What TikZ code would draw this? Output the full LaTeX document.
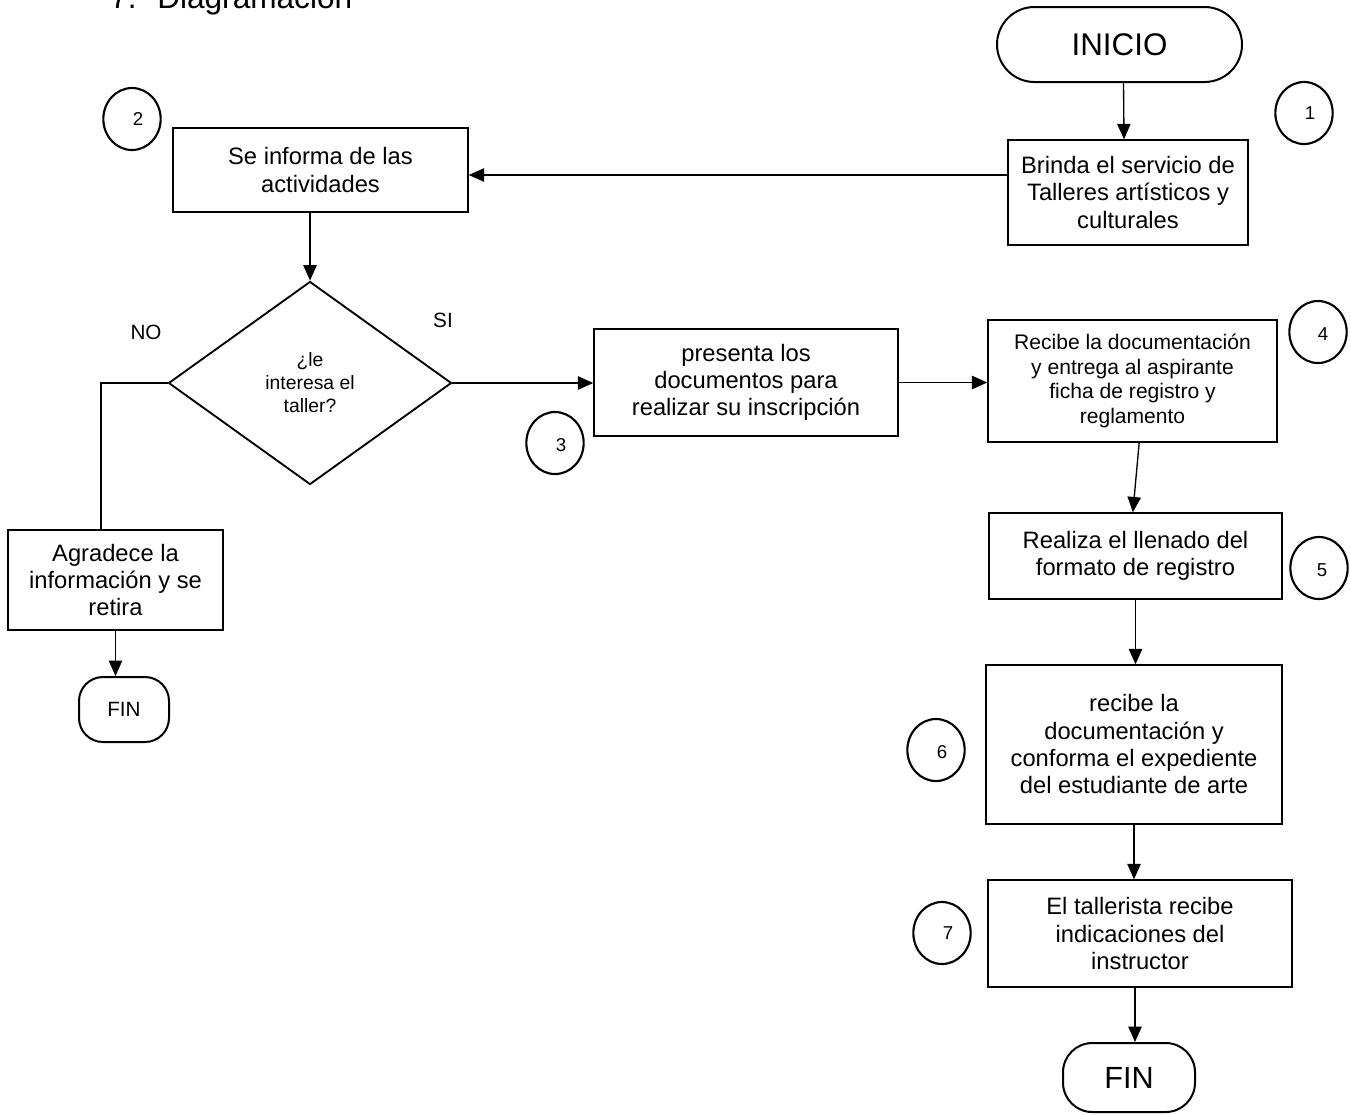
\documentclass[tikz,border=0pt]{standalone}
\usepackage{fontspec}
\setmainfont{Liberation Sans}
\usetikzlibrary{arrows.meta,shapes.geometric,shapes.misc}
\begin{document}
\begin{tikzpicture}[x=0.75pt,y=-0.75pt,
  proc/.style={draw, line width=1.1pt, inner sep=0pt, align=center,
    font=\fontsize{17.8}{20.5}\selectfont},
  smallproc/.style={proc, font=\fontsize{15.8}{18.4}\selectfont},
  numc/.style={draw, ellipse, line width=1.6pt, minimum width=43pt,
    minimum height=46.5pt, inner sep=0pt},
  numtxt/.style={font=\fontsize{14}{14}\selectfont, inner sep=0pt},
  term/.style={draw, line width=1.5pt, inner sep=0pt},
  conn/.style={line width=1pt, -{Triangle[length=11.5pt,width=10pt]}},
  plain/.style={line width=1pt},
  lbl/.style={font=\fontsize{15.5}{15.5}\selectfont, inner sep=0pt}
]
\useasboundingbox (0,0) rectangle (1351,1114);

% title (cut off at the top of the page, as in the reference)
\node[anchor=base west, inner sep=0pt, font=\fontsize{23.7}{26}\selectfont] (t7) at (110,8) {7.};
\node[anchor=base west, inner sep=0pt, font=\fontsize{23.7}{26}\selectfont] (tdiag) at (157,8) {Diagramación};

% terminals
\node[term, rounded rectangle, minimum width=183.75pt, minimum height=56.25pt,
  font=\fontsize{23.5}{26}\selectfont] (ini) at (1119.5,44.5) {INICIO};
\node[term, rectangle, rounded corners=18pt, minimum width=67.5pt, minimum height=48.75pt,
  font=\fontsize{15.5}{18}\selectfont] (finA) at (124,709.5) {FIN};
\node[term, rectangle, rounded corners=22pt, minimum width=99pt, minimum height=51.75pt,
  font=\fontsize{23}{26}\selectfont] (finB) at (1129,1077.5) {FIN};

% process boxes
\node[proc, minimum width=180pt, minimum height=78.75pt] (b1) at (1128,192.5)
  {Brinda el servicio de\\Talleres artísticos y\\culturales};
\node[proc, minimum width=221.25pt, minimum height=63pt] (b2) at (320.5,170)
  {Se informa de las\\actividades};
\node[proc, minimum width=228pt, minimum height=80.25pt] (b3) at (746,382.5)
  {presenta los\\documentos para\\realizar su inscripción};
\node[smallproc, minimum width=216.75pt, minimum height=91.5pt] (b4) at (1132.5,381)
  {Recibe la documentación\\y entrega al aspirante\\ficha de registro y\\reglamento};
\node[proc, minimum width=219.75pt, minimum height=64.5pt] (b5) at (1135.5,556)
  {Realiza el llenado del\\formato de registro};
\node[proc, minimum width=222pt, minimum height=119.25pt] (b6) at (1134,744.5)
  {recibe la\\documentación y\\conforma el expediente\\del estudiante de arte};
\node[proc, minimum width=228pt, minimum height=80.25pt] (b7) at (1140,933.5)
  {El tallerista recibe\\indicaciones del\\instructor};
\node[proc, minimum width=161.25pt, minimum height=75pt] (bA) at (115.5,580)
  {Agradece la\\información y se\\retira};

% decision
\node[draw, diamond, line width=1.4pt, inner sep=0pt, minimum width=212.25pt,
  minimum height=152.25pt, align=center, font=\fontsize{14.5}{17.25}\selectfont]
  (dia) at (310,383) {¿le\\interesa el\\taller?};

% branch labels
\node[lbl] (lno) at (146,332) {NO};
\node[lbl] (lsi) at (443,320) {SI};

% numbered circles
\node[numc] (c1) at (1304,113) {};
\node[numtxt] (n1) at (1310,113) {1};
\node[numc] (c2) at (132,119) {};
\node[numtxt] (n2) at (138,119) {2};
\node[numc] (c3) at (555,443) {};
\node[numtxt] (n3) at (561,445) {3};
\node[numc] (c4) at (1318,332) {};
\node[numtxt] (n4) at (1323,334) {4};
\node[numc] (c5) at (1319,568) {};
\node[numtxt] (n5) at (1322,570) {5};
\node[numc] (c6) at (936,750) {};
\node[numtxt] (n6) at (942,752) {6};
\node[numc] (c7) at (942,933) {};
\node[numtxt] (n7) at (948,933) {7};

% connectors
\draw[conn] ([xshift=3pt]ini.south) -- ([xshift=-3pt]b1.north);
\draw[conn] (b1.west |- 0,175) -- (b2.east |- 0,175);
\draw[conn] (dia.north |- b2.south) -- (dia.north);
\draw[conn] (dia.east) -- (dia.east -| b3.west);
\draw[plain] (dia.west) -| (bA.north -| 101,0);
\draw[conn] (bA.south) -- (bA.south |- finA.north);
\draw[conn] (b3.east) -- (b3.east -| b4.west);
\draw[conn] ([xshift=5pt]b4.south) -- ([xshift=-2pt]b5.north);
\draw[conn] (b5.south) -- (b5.south |- b6.north);
\draw[conn] (b6.south) -- (b6.south |- b7.north);
\draw[conn] (b7.south -| 1135,0) -- (finB.north -| 1135,0);
\end{tikzpicture}
\end{document}
